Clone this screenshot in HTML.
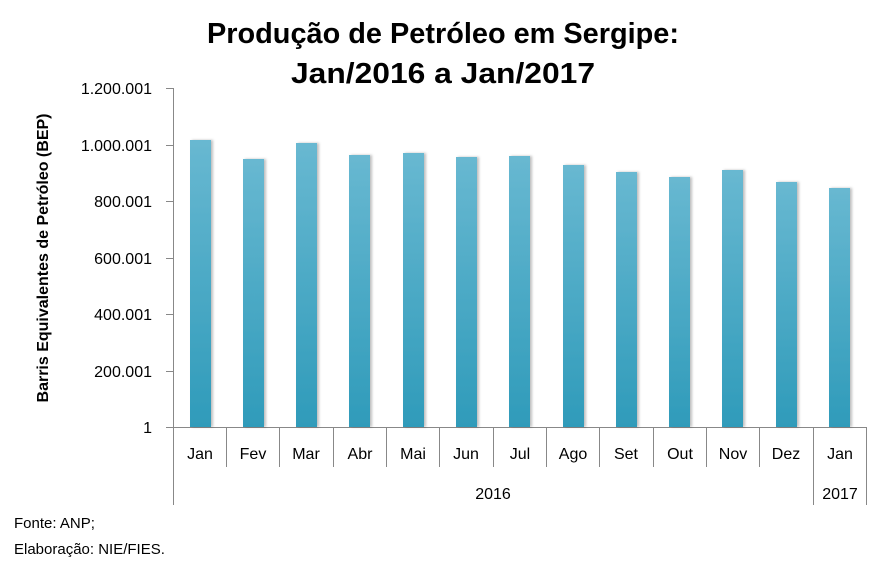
<!DOCTYPE html>
<html><head><meta charset="utf-8"><style>
body{margin:0;background:#fff;width:886px;height:572px;overflow:hidden}
svg text{font-family:"Liberation Sans",sans-serif}
</style></head><body>
<svg width="886" height="572" xmlns="http://www.w3.org/2000/svg">
<defs>
<linearGradient id="g" x1="0" y1="0" x2="0" y2="1">
<stop offset="0" stop-color="#68b8d1"/><stop offset="1" stop-color="#2f9bba"/></linearGradient>
<filter id="s" x="-20%" y="-5%" width="150%" height="110%"><feDropShadow dx="2" dy="0" stdDeviation="1.2" flood-color="#000" flood-opacity="0.25"/></filter>
</defs>
<text x="443" y="43" text-anchor="middle" font-size="29" font-weight="bold" fill="#000" textLength="472" lengthAdjust="spacingAndGlyphs">Produção de Petróleo em Sergipe:</text>
<text x="443" y="83" text-anchor="middle" font-size="29" font-weight="bold" fill="#000" textLength="304" lengthAdjust="spacingAndGlyphs">Jan/2016 a Jan/2017</text>
<g font-size="16" fill="#000" text-anchor="end">
<text x="152" y="94">1.200.001</text><text x="152" y="151">1.000.001</text><text x="152" y="207">800.001</text>
<text x="152" y="264">600.001</text><text x="152" y="320">400.001</text><text x="152" y="377">200.001</text><text x="152" y="433">1</text>
</g>
<text transform="translate(48,258) rotate(-90)" text-anchor="middle" font-size="16" font-weight="bold">Barris Equivalentes de Petróleo (BEP)</text>
<g stroke="#888" stroke-width="1">
<line x1="173.5" y1="88" x2="173.5" y2="505"/>
<line x1="166" y1="88.5" x2="173" y2="88.5"/><line x1="166" y1="145.5" x2="173" y2="145.5"/><line x1="166" y1="201.5" x2="173" y2="201.5"/>
<line x1="166" y1="258.5" x2="173" y2="258.5"/><line x1="166" y1="314.5" x2="173" y2="314.5"/><line x1="166" y1="371.5" x2="173" y2="371.5"/>
<line x1="166" y1="427.5" x2="866" y2="427.5"/>
<line x1="866.5" y1="427" x2="866.5" y2="505"/><line x1="813.5" y1="427" x2="813.5" y2="505"/>
</g>
<g id="bars" fill="url(#g)" filter="url(#s)">
<rect x="190" y="140" width="21" height="287"/><rect x="243" y="159" width="21" height="268"/>
<rect x="296" y="143" width="21" height="284"/><rect x="349" y="155" width="21" height="272"/>
<rect x="403" y="153" width="21" height="274"/><rect x="456" y="157" width="21" height="270"/>
<rect x="509" y="156" width="21" height="271"/><rect x="563" y="165" width="21" height="262"/>
<rect x="616" y="172" width="21" height="255"/><rect x="669" y="177" width="21" height="250"/>
<rect x="722" y="170" width="21" height="257"/><rect x="776" y="182" width="21" height="245"/>
<rect x="829" y="188" width="21" height="239"/>
</g>
<g stroke="#888">
<line x1="226.5" y1="427" x2="226.5" y2="467"/><line x1="279.5" y1="427" x2="279.5" y2="467"/><line x1="333.5" y1="427" x2="333.5" y2="467"/>
<line x1="386.5" y1="427" x2="386.5" y2="467"/><line x1="439.5" y1="427" x2="439.5" y2="467"/><line x1="493.5" y1="427" x2="493.5" y2="467"/>
<line x1="546.5" y1="427" x2="546.5" y2="467"/><line x1="599.5" y1="427" x2="599.5" y2="467"/><line x1="653.5" y1="427" x2="653.5" y2="467"/>
<line x1="706.5" y1="427" x2="706.5" y2="467"/><line x1="759.5" y1="427" x2="759.5" y2="467"/>
</g>
<g font-size="16" text-anchor="middle" fill="#000">
<text x="200" y="459">Jan</text><text x="253" y="459">Fev</text><text x="306" y="459">Mar</text><text x="360" y="459">Abr</text>
<text x="413" y="459">Mai</text><text x="466" y="459">Jun</text><text x="520" y="459">Jul</text><text x="573" y="459">Ago</text>
<text x="626" y="459">Set</text><text x="680" y="459">Out</text><text x="733" y="459">Nov</text><text x="786" y="459">Dez</text>
<text x="840" y="459">Jan</text>
<text x="493" y="499">2016</text><text x="840" y="499">2017</text>
</g>
<text x="14" y="528" font-size="15">Fonte: ANP;</text>
<text x="14" y="554" font-size="15">Elaboração: NIE/FIES.</text>
</svg>
</body></html>
